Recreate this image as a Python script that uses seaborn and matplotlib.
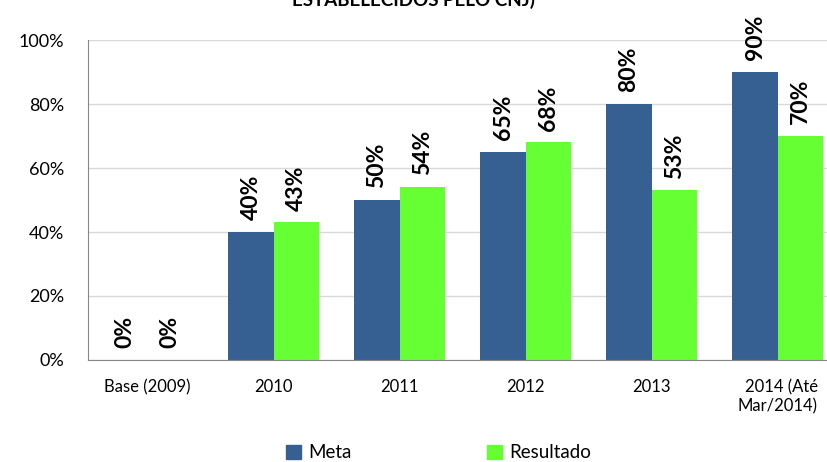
import pandas as pd
import numpy as np

import matplotlib
matplotlib.use('Agg')
import matplotlib.pyplot as plt
import seaborn as sns

categories = ['Base (2009)', '2010', '2011', '2012', '2013', '2014 (Até\nMar/2014)']
meta = [0, 40, 50, 65, 80, 90]
resultado = [0, 43, 54, 68, 53, 70]
series_names = ['Meta', 'Resultado']
bar_colors = ['#376092', '#66FF33']

df = pd.DataFrame({
    'cat': categories * 2,
    'valor': meta + resultado,
    'serie': [series_names[0]] * len(meta) + [series_names[1]] * len(resultado),
})

sns.set_style('white')
plt.rcParams['font.family'] = ['Lato', 'DejaVu Sans']
plt.rcParams['text.color'] = 'black'
plt.rcParams['xtick.color'] = 'black'
plt.rcParams['ytick.color'] = 'black'

fig = plt.figure(figsize=[8.27, 4.62], dpi=100)
ax = fig.add_axes([0.106, 0.221, 0.894, 0.692])

sns.barplot(data=df, x='cat', y='valor', hue='serie', palette=bar_colors,
            width=0.72, saturation=1, linewidth=0, ax=ax, legend=False)

for cont, vals in zip(ax.containers, [meta, resultado]):
    ax.bar_label(cont, labels=[f'{v}%' for v in vals], rotation=90,
                 padding=8.5, fontsize=16.5, fontweight='bold', color='black')

ax.set_ylim(0, 100)
ax.set_xlim(-0.476, 5.39)
ax.set_yticks(range(0, 101, 20))
ax.set_yticklabels([f'{v}%' for v in range(0, 101, 20)], fontsize=13)
ax.tick_params(axis='x', labelsize=12, pad=14, length=0)
ax.tick_params(axis='y', length=0, pad=17)
for lbl in ax.get_xticklabels():
    lbl.set_multialignment('right')
ax.set_xlabel('')
ax.set_ylabel('')
ax.yaxis.grid(True, color='#d9d9d9', linewidth=1)
ax.set_axisbelow(True)
for s in ['top', 'right']:
    ax.spines[s].set_visible(False)
ax.spines['left'].set_color('#868686')
ax.spines['bottom'].set_color('#868686')

handles = [plt.Rectangle((0, 0), 1, 1, color=c) for c in bar_colors]
fig.legend(handles, series_names, loc='center', bbox_to_anchor=(0.53, 0.02),
           ncol=2, frameon=False, fontsize=13.5, handlelength=0.8, handleheight=0.8,
           handletextpad=0.4, columnspacing=7.2)

fig.text(0.5, 0.987, 'ESTABELECIDOS PELO CNJ)', ha='center', va='baseline',
         fontsize=13.5, fontweight='bold')

fig.savefig('out.png', dpi=100)
